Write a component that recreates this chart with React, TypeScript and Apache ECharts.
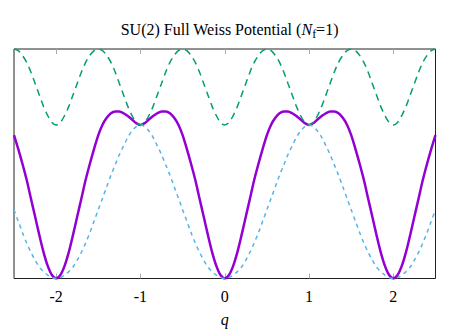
import React, { useEffect, useRef } from "react";
import * as echarts from "echarts";

const qValues = [
  -2.5, -2.45, -2.4, -2.35, -2.3, -2.25, -2.2, -2.15, -2.1, -2.05, -2.0,
  -1.95, -1.9, -1.85, -1.8, -1.75, -1.7, -1.65, -1.6, -1.55, -1.5,
  -1.45, -1.4, -1.35, -1.3, -1.25, -1.2, -1.15, -1.1, -1.05, -1.0,
  -0.95, -0.9, -0.85, -0.8, -0.75, -0.7, -0.65, -0.6, -0.55, -0.5,
  -0.45, -0.4, -0.35, -0.3, -0.25, -0.2, -0.15, -0.1, -0.05, 0.0,
  0.05, 0.1, 0.15, 0.2, 0.25, 0.3, 0.35, 0.4, 0.45, 0.5,
  0.55, 0.6, 0.65, 0.7, 0.75, 0.8, 0.85, 0.9, 0.95, 1.0,
  1.05, 1.1, 1.15, 1.2, 1.25, 1.3, 1.35, 1.4, 1.45, 1.5,
  1.55, 1.6, 1.65, 1.7, 1.75, 1.8, 1.85, 1.9, 1.95, 2.0,
  2.05, 2.1, 2.15, 2.2, 2.25, 2.3, 2.35, 2.4, 2.45, 2.5,
];

// purple solid: full Weiss potential
const fullPotential = [
  0.625, 0.565, 0.5, 0.43, 0.35, 0.27, 0.19, 0.115, 0.055, 0.015, 0,
  0.015, 0.055, 0.115, 0.19, 0.27, 0.35, 0.43, 0.5, 0.565, 0.625,
  0.67, 0.7, 0.72, 0.728, 0.728, 0.72, 0.708, 0.693, 0.677, 0.669,
  0.677, 0.693, 0.708, 0.72, 0.728, 0.728, 0.72, 0.7, 0.67, 0.625,
  0.565, 0.5, 0.43, 0.35, 0.27, 0.19, 0.115, 0.055, 0.015, 0,
  0.015, 0.055, 0.115, 0.19, 0.27, 0.35, 0.43, 0.5, 0.565, 0.625,
  0.67, 0.7, 0.72, 0.728, 0.728, 0.72, 0.708, 0.693, 0.677, 0.669,
  0.677, 0.693, 0.708, 0.72, 0.728, 0.728, 0.72, 0.7, 0.67, 0.625,
  0.565, 0.5, 0.43, 0.35, 0.27, 0.19, 0.115, 0.055, 0.015, 0,
  0.015, 0.055, 0.115, 0.19, 0.27, 0.35, 0.43, 0.5, 0.565, 0.625,
];

// light blue dashed: gauge part
const gaugePotential = [
  0.3, 0.25, 0.2, 0.155, 0.115, 0.08, 0.05, 0.03, 0.015, 0.004, 0,
  0.004, 0.015, 0.03, 0.05, 0.08, 0.115, 0.155, 0.2, 0.25, 0.3,
  0.35, 0.4, 0.45, 0.495, 0.54, 0.578, 0.615, 0.643, 0.662, 0.669,
  0.662, 0.643, 0.615, 0.578, 0.54, 0.495, 0.45, 0.4, 0.35, 0.3,
  0.25, 0.2, 0.155, 0.115, 0.08, 0.05, 0.03, 0.015, 0.004, 0,
  0.004, 0.015, 0.03, 0.05, 0.08, 0.115, 0.155, 0.2, 0.25, 0.3,
  0.35, 0.4, 0.45, 0.495, 0.54, 0.578, 0.615, 0.643, 0.662, 0.669,
  0.662, 0.643, 0.615, 0.578, 0.54, 0.495, 0.45, 0.4, 0.35, 0.3,
  0.25, 0.2, 0.155, 0.115, 0.08, 0.05, 0.03, 0.015, 0.004, 0,
  0.004, 0.015, 0.03, 0.05, 0.08, 0.115, 0.155, 0.2, 0.25, 0.3,
];

// green dashed: fermion part
const fermionPotential = [
  1.0, 0.993, 0.972, 0.942, 0.9, 0.85, 0.8, 0.75, 0.71, 0.68, 0.669,
  0.68, 0.71, 0.75, 0.8, 0.85, 0.9, 0.942, 0.972, 0.993, 1.0,
  0.993, 0.972, 0.942, 0.9, 0.85, 0.8, 0.75, 0.71, 0.68, 0.669,
  0.68, 0.71, 0.75, 0.8, 0.85, 0.9, 0.942, 0.972, 0.993, 1.0,
  0.993, 0.972, 0.942, 0.9, 0.85, 0.8, 0.75, 0.71, 0.68, 0.669,
  0.68, 0.71, 0.75, 0.8, 0.85, 0.9, 0.942, 0.972, 0.993, 1.0,
  0.993, 0.972, 0.942, 0.9, 0.85, 0.8, 0.75, 0.71, 0.68, 0.669,
  0.68, 0.71, 0.75, 0.8, 0.85, 0.9, 0.942, 0.972, 0.993, 1.0,
  0.993, 0.972, 0.942, 0.9, 0.85, 0.8, 0.75, 0.71, 0.68, 0.669,
  0.68, 0.71, 0.75, 0.8, 0.85, 0.9, 0.942, 0.972, 0.993, 1.0,
];

const tickValues = [-2, -1, 0, 1, 2];
const tickLabels = ["-2", "-1", "0", "1", "2"];

const FONT = "Liberation Serif";

export default function App() {
  const ref = useRef<HTMLDivElement>(null);

  useEffect(() => {
    if (!ref.current) return;
    const chart = echarts.init(ref.current, undefined, { renderer: "svg" });
    const pairs = (ys: number[]) => qValues.map((q, i) => [q, ys[i]]);
    const tickStyle = {
      show: true,
      inside: true,
      length: 5,
      customValues: tickValues,
      lineStyle: { color: "#aaaaaa", width: 1 },
    };
    chart.setOption({
      animation: false,
      backgroundColor: "#ffffff",
      title: {
        text: "SU(2) Full Weiss Potential ({n|N}{f|f}=1)",
        left: 224.5,
        textAlign: "center",
        top: 13,
        textStyle: {
          fontFamily: FONT,
          fontSize: 16,
          fontWeight: "normal",
          color: "#000",
          lineHeight: 22,
          rich: {
            n: { fontFamily: FONT, fontSize: 16, fontStyle: "italic", color: "#000", lineHeight: 22 },
            f: { fontFamily: FONT, fontSize: 12, color: "#000", lineHeight: 12, verticalAlign: "bottom" },
          },
        },
      },
      grid: {
        left: 14,
        right: 38.5,
        top: 49,
        bottom: 53.5,
        show: true,
        borderColor: "#222",
        borderWidth: 1,
        containLabel: false,
        outerBoundsMode: "none",
      },
      xAxis: [
        {
          type: "value",
          min: -2.5,
          max: 2.5,
          position: "bottom",
          axisLine: { show: false },
          axisTick: tickStyle,
          splitLine: { show: false },
          axisLabel: {
            customValues: tickValues,
            formatter: (v: number) => tickLabels[tickValues.indexOf(Math.round(v))] ?? "",
            fontFamily: FONT,
            fontSize: 16,
            color: "#000",
            margin: 10,
          },
          name: "q",
          nameLocation: "middle",
          nameGap: 33,
          nameTextStyle: { fontFamily: FONT, fontSize: 16, fontStyle: "italic", color: "#000" },
        },
        {
          type: "value",
          min: -2.5,
          max: 2.5,
          position: "top",
          axisLine: { show: false },
          axisTick: tickStyle,
          splitLine: { show: false },
          axisLabel: { show: false },
        },
      ],
      yAxis: {
        type: "value",
        min: 0,
        max: 1,
        show: false,
        splitLine: { show: false },
      },
      series: [
        {
          type: "line",
          data: pairs(fullPotential),
          smooth: 0.3,
          showSymbol: false,
          symbol: "none",
          lineStyle: { color: "#9400D3", width: 2.5 },
          z: 3,
        },
        {
          type: "line",
          data: pairs(fermionPotential),
          smooth: 0.3,
          showSymbol: false,
          symbol: "none",
          lineStyle: { color: "#009E73", width: 1.5, type: [7, 5] },
          z: 4,
        },
        {
          type: "line",
          data: pairs(gaugePotential),
          smooth: 0.3,
          showSymbol: false,
          symbol: "none",
          lineStyle: { color: "#56B4E9", width: 1.5, type: [4, 4] },
          z: 5,
        },
      ],
    });
    return () => chart.dispose();
  }, []);

  return (
    <div
      ref={ref}
      style={{ position: "fixed", left: 0, top: 0, width: "474px", height: "332px" }}
    />
  );
}
